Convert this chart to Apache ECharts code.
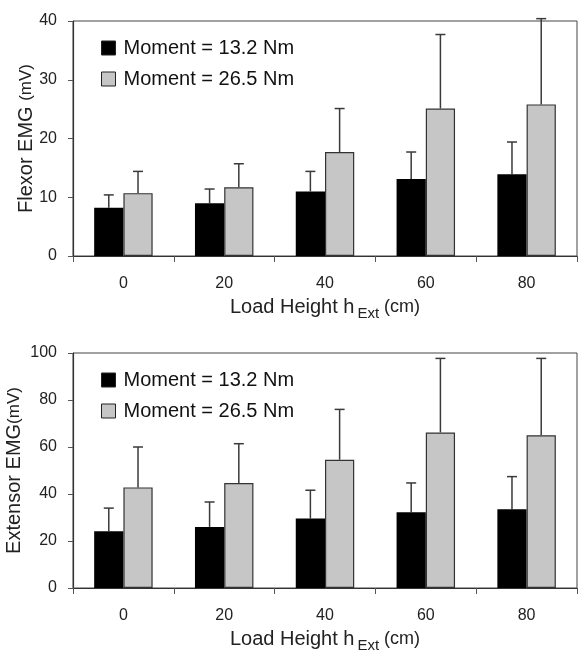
<!DOCTYPE html>
<html lang="en">
<head>
    <meta charset="UTF-8">
    <title>EMG vs load height</title>
    <script src="https://cdn.jsdelivr.net/npm/echarts@6/dist/echarts.min.js"></script>
    <style>
        *{
            margin: 0;
            padding: 0;
        }
        html,body{
            width: 100%;
            height: 100%;
            background: #fff;
        }
        .container{
            width: 580px;
            height: 650px;
        }
    </style>
</head>
<body>
<div class="container"></div>
<script>
    // data
    let heights = ['0', '20', '40', '60', '80'];
    let names = ['Moment = 13.2 Nm', 'Moment = 26.5 Nm'];

    let flexorLow = [8.2, 9.0, 11.0, 13.1, 13.9];
    let flexorLowSd = [2.2, 2.4, 3.4, 4.6, 5.5];
    let flexorHigh = [10.7, 11.7, 17.7, 25.1, 25.8];
    let flexorHighSd = [3.7, 4.0, 7.4, 12.6, 14.6];

    let extensorLow = [24.1, 26.0, 29.6, 32.2, 33.5];
    let extensorLowSd = [9.9, 10.6, 12.0, 12.5, 13.9];
    let extensorHigh = [42.8, 44.7, 54.6, 66.2, 65.0];
    let extensorHighSd = [17.2, 16.7, 21.4, 31.5, 32.7];

    const FONT = "'Liberation Sans', Arial, sans-serif";
    const gapPct = 0.42;
    const colors = ['#000000', '#c6c6c6'];

    let chart = echarts.init(document.querySelector('.container'));

    function errorSeries(means, sds, side, idx) {
        return {
            type: 'custom',
            xAxisIndex: idx,
            yAxisIndex: idx,
            silent: true,
            clip: false,
            z: 1,
            encode: {x: 0, y: [1, 2]},
            data: means.map((m, i) => [i, m, m + sds[i]]),
            renderItem: function (params, api) {
                let base = api.coord([api.value(0), api.value(1)]);
                let top = api.coord([api.value(0), api.value(2)]);
                let bw = api.size([1, 0])[0] * (1 - gapPct) / 2;
                let x = base[0] + side * bw / 2;
                let style = {stroke: '#3a3a3a', lineWidth: 1.5};
                return {
                    type: 'group',
                    children: [
                        {type: 'line', shape: {x1: x, y1: base[1], x2: x, y2: top[1]}, style},
                        {type: 'line', shape: {x1: x - 5, y1: top[1], x2: x + 5, y2: top[1]}, style}
                    ]
                };
            }
        };
    }

    function barSeries(name, values, color, idx) {
        return {
            name,
            type: 'bar',
            xAxisIndex: idx,
            yAxisIndex: idx,
            data: values,
            barGap: 0,
            barCategoryGap: (gapPct * 100) + '%',
            z: 2,
            itemStyle: {
                color,
                borderColor: '#333',
                borderWidth: color == '#000000' ? 0 : 1.2
            }
        };
    }

    function xAxis(idx) {
        return {
            type: 'category',
            gridIndex: idx,
            data: heights,
            axisLine: {lineStyle: {color: '#333', width: 1.2}},
            axisTick: {show: true, length: 6, interval: 0, lineStyle: {color: '#555'}},
            axisLabel: {color: '#222', fontSize: 16, fontFamily: FONT, margin: 20},
            name: '{a|Load Height h}{b|Ext}{c| (cm)}',
            nameLocation: 'middle',
            nameGap: 37,
            nameMoveOverlap: false,
            nameTextStyle: {
                fontFamily: FONT,
                rich: {
                    a: {fontSize: 20, color: '#222', fontFamily: FONT, lineHeight: 28, verticalAlign: 'middle'},
                    b: {fontSize: 15, color: '#222', fontFamily: FONT, lineHeight: 28, verticalAlign: 'bottom', padding: [0, 0, 0, 3]},
                    c: {fontSize: 18, color: '#222', fontFamily: FONT, lineHeight: 28, verticalAlign: 'middle'}
                }
            }
        };
    }

    function yAxis(idx, max, interval, title, gap) {
        return {
            type: 'value',
            gridIndex: idx,
            min: 0,
            max,
            interval,
            splitLine: {show: false},
            axisLine: {show: true, lineStyle: {color: '#333', width: 1.2}},
            axisTick: {show: true, length: 5, lineStyle: {color: '#555'}},
            axisLabel: {color: '#222', fontSize: 16, fontFamily: FONT, margin: 16},
            name: title,
            nameLocation: 'middle',
            nameGap: gap,
            nameMoveOverlap: false,
            nameTextStyle: {
                rich: {
                    a: {fontSize: 20, color: '#222', fontFamily: FONT},
                    s: {fontSize: 17, color: '#222', fontFamily: FONT}
                }
            }
        };
    }

    function legend(top) {
        return {
            orient: 'vertical',
            left: 96,
            top,
            itemWidth: 14,
            itemHeight: 14,
            itemGap: 11,
            icon: 'rect',
            textStyle: {fontSize: 20, color: '#111', fontFamily: FONT, padding: [0, 0, 0, 3]},
            data: [
                {name: names[0], itemStyle: {color: colors[0], borderColor: '#222', borderWidth: 1}},
                {name: names[1], itemStyle: {color: colors[1], borderColor: '#222', borderWidth: 1}}
            ],
            selectedMode: false
        };
    }

    let option = {
        animation: false,
        backgroundColor: '#fff',
        grid: [
            {left: 73, top: 21, width: 504, height: 235, show: true, borderColor: '#444', borderWidth: 1, outerBoundsMode: 'none'},
            {left: 73, top: 353, width: 504, height: 235, show: true, borderColor: '#444', borderWidth: 1, outerBoundsMode: 'none'}
        ],
        legend: [legend(33), legend(365)],
        xAxis: [xAxis(0), xAxis(1)],
        yAxis: [
            yAxis(0, 40, 10, '{a|Flexor EMG }{s|(mV)}', 37),
            yAxis(1, 100, 20, '{a|Extensor EMG}{s|(mV)}', 49)
        ],
        series: [
            errorSeries(flexorLow, flexorLowSd, -1, 0),
            errorSeries(flexorHigh, flexorHighSd, 1, 0),
            barSeries(names[0], flexorLow, colors[0], 0),
            barSeries(names[1], flexorHigh, colors[1], 0),
            errorSeries(extensorLow, extensorLowSd, -1, 1),
            errorSeries(extensorHigh, extensorHighSd, 1, 1),
            barSeries(names[0], extensorLow, colors[0], 1),
            barSeries(names[1], extensorHigh, colors[1], 1)
        ]
    };
    chart.setOption(option);
</script>
</body>
</html>
